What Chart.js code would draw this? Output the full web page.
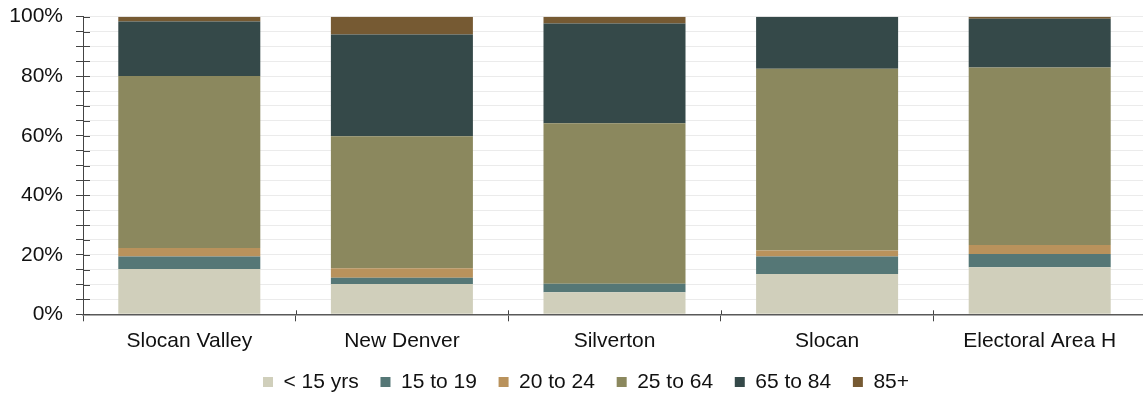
<!DOCTYPE html>
<html>
<head>
<meta charset="utf-8">
<script src="https://cdn.jsdelivr.net/npm/chart.js@4/dist/chart.umd.min.js"></script>
<style>
  html, body { margin: 0; padding: 0; background: #fff; overflow: hidden; }
  #wrap { position: relative; width: 1146px; height: 393px; }
</style>
</head>
<body>
<div id="wrap"><canvas id="ageChart"></canvas></div>
<script>
// Population share by age group (%), per community
const categories = ['Slocan Valley', 'New Denver', 'Silverton', 'Slocan', 'Electoral Area H'];
const seriesLabels = ['< 15 yrs', '15 to 19', '20 to 24', '25 to 64', '65 to 84', '85+'];

const under15   = [15.2, 10.2,  7.4, 13.5, 15.8];
const age15to19 = [ 4.2,  2.1,  2.9,  5.9,  4.5];
const age20to24 = [ 2.9,  3.2,  0.0,  2.0,  3.0];
const age25to64 = [57.8, 44.3, 53.9, 61.1, 59.6];
const age65to84 = [18.3, 34.2, 33.5, 17.5, 16.4];
const age85plus = [ 1.6,  6.0,  2.3,  0.0,  0.7];

// Axis ticks: every 5%, labelled every 20%
const yTickStep = 5;
const yLabelStep = 20;

const seriesValues = [under15, age15to19, age20to24, age25to64, age65to84, age85plus];
const seriesColors = ['#D0CFBB', '#557776', '#B9925C', '#8B885E', '#354949', '#765A33'];

const FONT = "'Liberation Sans', Arial, sans-serif";
const TEXT = '#111111';
const AXIS = '#595959';

// Short tick marks on the inner side of both axes (crossing the axis line)
const innerTicks = {
  id: 'innerTicks',
  afterDraw(chart) {
    const { ctx, chartArea, scales } = chart;
    ctx.save();
    ctx.strokeStyle = '#444';
    ctx.lineWidth = 1;
    ctx.beginPath();
    scales.y.ticks.forEach((t) => {
      const py = Math.round(scales.y.getPixelForValue(t.value)) + 0.5;
      ctx.moveTo(chartArea.left, py);
      ctx.lineTo(chartArea.left + 7, py);
    });
    const n = categories.length;
    for (let i = 1; i <= n; i++) {
      const a = scales.x.getPixelForValue(i - 1);
      const b = i < n ? scales.x.getPixelForValue(i) : a + (a - scales.x.getPixelForValue(i - 2));
      const px = Math.round((a + b) / 2) + 0.5;
      ctx.moveTo(px, chartArea.bottom - 4);
      ctx.lineTo(px, chartArea.bottom);
    }
    ctx.stroke();
    ctx.restore();
  }
};

// Legend row sits slightly right of centre and lower down; the category
// labels are allowed to extend into the space above it.
const layoutTweaks = {
  id: 'layoutTweaks',
  afterLayout(chart) {
    const l = chart.legend;
    if (l) {
      l.left += 13; l.right += 13;
      l.top += 9.5; l.bottom += 9.5;
    }
    const xs = chart.scales.x;
    xs.bottom = xs.top + 60;
    xs.height = 60;
  }
};

new Chart(document.getElementById('ageChart'), {
  type: 'bar',
  data: {
    labels: categories,
    datasets: seriesLabels.map((label, i) => ({
      label,
      data: seriesValues[i],
      backgroundColor: seriesColors[i],
      borderWidth: 0,
      categoryPercentage: 1.0,
      barPercentage: 0.668
    }))
  },
  options: {
    responsive: true,
    maintainAspectRatio: false,
    animation: false,
    layout: { padding: 0 },
    plugins: {
      tooltip: { enabled: false },
      legend: {
        position: 'bottom',
        labels: {
          boxWidth: 10,
          boxHeight: 10,
          padding: 21.7,
          color: TEXT,
          font: { family: FONT, size: 21 }
        }
      }
    },
    scales: {
      x: {
        stacked: true,
        grid: {
          offset: true,
          drawOnChartArea: false,
          drawTicks: true,
          tickLength: 7,
          tickColor: '#444'
        },
        border: { display: true, color: AXIS, width: 1.5 },
        ticks: {
          color: TEXT,
          padding: 7,
          maxRotation: 0,
          font: { family: FONT, size: 21 }
        },
        afterFit(scale) { scale.height = 26; }
      },
      y: {
        stacked: true,
        min: 0,
        max: 100,
        grid: {
          color: '#ebebeb',
          lineWidth: 1,
          drawTicks: true,
          tickLength: 7,
          tickColor: '#444'
        },
        border: { display: true, color: '#444', width: 1 },
        ticks: {
          stepSize: yTickStep,
          autoSkip: false,
          padding: 13,
          color: TEXT,
          font: { family: FONT, size: 21 },
          callback: (v) => (v % yLabelStep === 0 ? v + '%' : '')
        },
        afterFit(scale) {
          scale.width = 83;
          scale.paddingTop = 16.7;
          scale.paddingBottom = 0;
        }
      }
    }
  },
  plugins: [innerTicks, layoutTweaks]
});
</script>
</body>
</html>
